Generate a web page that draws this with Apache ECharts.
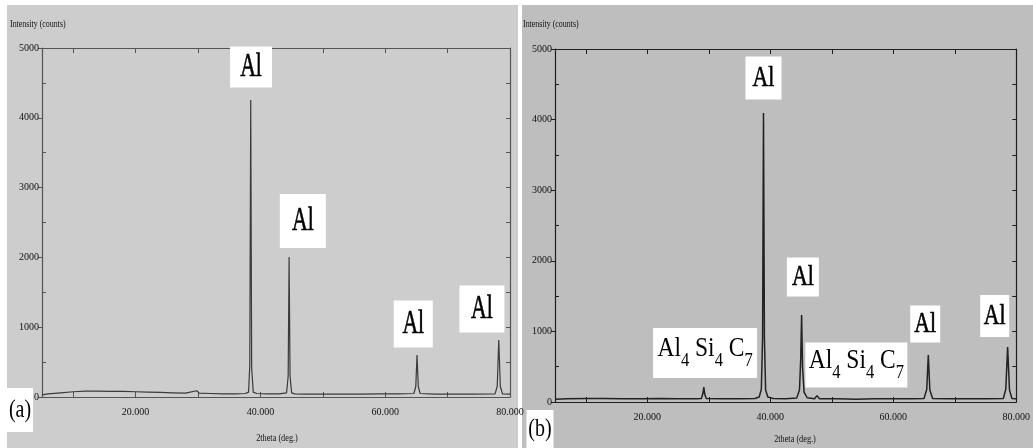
<!DOCTYPE html>
<html><head><meta charset="utf-8">
<script src="https://cdn.jsdelivr.net/npm/echarts@6/dist/echarts.min.js"></script>
<style>html,body{margin:0;padding:0;background:#fff}#c{width:1033px;height:448px}</style>
</head><body><div id="c"></div>
<script>
// ---------- data ----------
const thetaA = [5,6,8,10,12,14,16,18,20,22, 24,26,28,29.8,30.2,32,34,36,37.6,38.1, 38.3,38.45,38.6,38.85,39.4,41,43,44.2,44.45,44.6, 44.75,45.0,45.5,47,50,53,56,59,62,64.6, 64.9,65.1,65.3,65.6,68,71,74,77.6,77.95,78.2, 78.45,78.8,80];
const countsA = [30,45,60,75,85,85,80,80,75,70, 65,60,55,90,55,50,45,45,50,70, 450,4255,420,70,50,45,45,60,300,2006, 300,60,45,40,40,40,40,45,45,50, 150,602,150,50,40,40,40,45,150,817, 150,45,40];
const thetaB = [5,7,10,13,16,19,22,25,28,28.8, 29.05,29.2,29.35,29.6,32,35,37.5,38.2,38.55,38.75, 38.9,39.05,39.25,39.6,40.5,42.5,44.3,44.75,44.95,45.1, 45.25,45.5,46,47.2,47.6,48,51,54,57,60, 63,65.0,65.45,65.7,65.95,66.4,69,72,75,77.9, 78.3,78.6,78.9,79.3,80];
const countsB = [40,45,50,50,45,45,50,45,45,50, 120,210,110,50,45,45,50,70,180,900, 4093,900,170,70,50,45,55,170,600,1232, 500,140,60,45,90,45,45,40,45,45, 45,50,180,666,170,50,45,45,45,50, 180,779,170,50,45];
const xLabelValues = [20, 40, 60, 80];
const xTickValues = [10, 20, 30, 40, 50, 60, 70];
const yMinorLeft = [500, 1500, 2500, 3500, 4500];
const yMinorRight = [500, 1000, 1500, 2000, 2500, 3000, 3500, 4000, 4500];
// annotation texts and their anchor points (2theta, counts)
const annotTextA = ['Al', 'Al', 'Al', 'Al'];
const annotThetaA = [38.5, 46.8, 64.5, 75.5];
const annotCountA = [4728, 2521, 1046, 1261];
const annotTextB = ['Al', 'Al', 'Al', 'Al', 'AlSiC', 'AlSiC'];
const annotThetaB = [38.9, 45.3, 65.2, 76.5, 29.4, 54.0];
const annotCountB = [4589, 1771, 1105, 1218, 694, 524];

// ---------- chart ----------
const chart = echarts.init(document.getElementById('c'), null, {renderer: 'canvas'});
const zip = (xs, ys) => xs.map((x, i) => [x, ys[i]]);
const FONT = 'Liberation Serif';

function xAxes(gi, lc) {
  return [
    {gridIndex: gi, type: 'value', position: 'bottom', min: 5, max: 80,
     axisLine: {show: true, onZero: false, lineStyle: {color: lc, width: 1.2}},
     axisTick: {show: true, inside: true, length: 5, customValues: xTickValues, lineStyle: {color: lc}},
     axisLabel: {show: true, customValues: xLabelValues, formatter: v => Number(v).toFixed(3),
                 margin: 10, fontSize: 10, fontFamily: FONT, color: '#111'},
     splitLine: {show: false}},
    {gridIndex: gi, type: 'value', position: 'top', min: 5, max: 80,
     axisLine: {show: true, onZero: false, lineStyle: {color: lc, width: 1.2}},
     axisTick: {show: true, inside: true, length: 5, customValues: xTickValues, lineStyle: {color: lc}},
     axisLabel: {show: false}, splitLine: {show: false}}
  ];
}
function yAxes(gi, lc) {
  return [
    {gridIndex: gi, type: 'value', position: 'left', min: 0, max: 5000, interval: 1000,
     axisLine: {show: true, onZero: false, lineStyle: {color: lc, width: 1.2}},
     axisTick: {show: true, inside: false, length: 4, lineStyle: {color: lc}},
     axisLabel: {show: true, margin: 3, fontSize: 10, fontFamily: FONT, color: '#111', formatter: v => String(v)},
     splitLine: {show: false}},
    {gridIndex: gi, type: 'value', position: 'left', min: 0, max: 5000,
     axisLine: {show: false, onZero: false},
     axisTick: {show: true, inside: true, length: 4, customValues: yMinorLeft, lineStyle: {color: lc}},
     axisLabel: {show: false}, splitLine: {show: false}},
    {gridIndex: gi, type: 'value', position: 'right', min: 0, max: 5000,
     axisLine: {show: true, onZero: false, lineStyle: {color: lc, width: 1.2}},
     axisTick: {show: true, inside: true, length: 4, customValues: yMinorRight, lineStyle: {color: lc}},
     axisLabel: {show: false}, splitLine: {show: false}}
  ];
}

const option = {
  animation: false,
  backgroundColor: '#ffffff',
  grid: [
    {left: 42, top: 48, width: 468, height: 349},
    {left: 555, top: 49, width: 476, height: 353}
  ],
  xAxis: [...xAxes(0, '#555'), ...xAxes(1, '#1e1e1e')],
  yAxis: [...yAxes(0, '#555'), ...yAxes(1, '#1e1e1e')],
  series: [
    {type: 'line', xAxisIndex: 0, yAxisIndex: 0, data: zip(thetaA, countsA), showSymbol: false,
     lineStyle: {color: '#3a3a3a', width: 1.2}, z: 3},
    {type: 'line', xAxisIndex: 2, yAxisIndex: 3, data: zip(thetaB, countsB), showSymbol: false,
     lineStyle: {color: '#222', width: 1.5}, z: 3}
  ]
};
chart.setOption(option);

// ---------- annotations ----------
const g = [];
g.push({type: 'rect', id: 'bgA', z: -100, shape: {x: 7, y: 5, width: 511, height: 443}, style: {fill: '#cdcdcd'}, silent: true});
g.push({type: 'rect', id: 'bgB', z: -100, shape: {x: 522, y: 5, width: 511, height: 443}, style: {fill: '#bebebe'}, silent: true});

function box(id, cx, cy, w, h, textEl) {
  g.push({type: 'rect', id: id + 'r', z: 20, shape: {x: cx - w / 2, y: cy - h / 2, width: w, height: h}, style: {fill: '#ffffff'}});
  g.push(Object.assign({type: 'text', id: id + 't', z: 21, x: cx, y: cy}, textEl));
}
function alText(size, sx) {
  return {scaleX: sx, style: {text: 'Al', fontSize: size, fontFamily: FONT, fill: '#000', stroke: '#000', lineWidth: 0.6,
                              align: 'center', verticalAlign: 'middle'}};
}
function alSiCText() {
  return {scaleX: 0.87, style: {
    text: '{m|Al}{s|4}{m| Si}{s|4}{m| C}{s|7}', align: 'center', verticalAlign: 'middle',
    rich: {m: {fontSize: 27, fontFamily: FONT, fill: '#000', lineHeight: 36, verticalAlign: 'top'},
           s: {fontSize: 19, fontFamily: FONT, fill: '#000', lineHeight: 14, verticalAlign: 'bottom'}}}};
}
const sizesA = [[42, 41], [46, 54], [39, 47], [45, 47]];
annotTextA.forEach((t, i) => {
  const p = chart.convertToPixel({gridIndex: 0}, [annotThetaA[i], annotCountA[i]]);
  box('a' + i, p[0], p[1], sizesA[i][0], sizesA[i][1], alText(34, 0.64));
});
const sizesB = [[36, 43], [32, 39], [30, 37], [29, 42], [104, 50], [102, 45]];
annotTextB.forEach((t, i) => {
  const p = chart.convertToPixel({gridIndex: 1}, [annotThetaB[i], annotCountB[i]]);
  box('b' + i, p[0], p[1], sizesB[i][0], sizesB[i][1], t === 'Al' ? alText(29, 0.75) : alSiCText());
});
box('la', 20, 410, 26, 44, {scaleX: 0.8, style: {text: '(a)', fontSize: 25, fontFamily: FONT, fill: '#000', align: 'center', verticalAlign: 'middle'}});
box('lb', 540, 429, 27, 38, {scaleX: 0.8, style: {text: '(b)', fontSize: 25, fontFamily: FONT, fill: '#000', align: 'center', verticalAlign: 'middle'}});
const titleStyle = (txt, align) => ({text: txt, fontSize: 11, fontFamily: FONT, fill: '#111', align: align, verticalAlign: 'middle'});
g.push({type: 'text', id: 'yta', x: 10, y: 24, scaleX: 0.72, z: 5, style: titleStyle('Intensity (counts)', 'left')});
g.push({type: 'text', id: 'ytb', x: 523, y: 24, scaleX: 0.72, z: 5, style: titleStyle('Intensity (counts)', 'left')});
g.push({type: 'text', id: 'xta', x: 277, y: 438, scaleX: 0.75, z: 5, style: titleStyle('2theta (deg.)', 'center')});
g.push({type: 'text', id: 'xtb', x: 795, y: 439, scaleX: 0.75, z: 5, style: titleStyle('2theta (deg.)', 'center')});

chart.setOption({graphic: g});
</script>
</body></html>
